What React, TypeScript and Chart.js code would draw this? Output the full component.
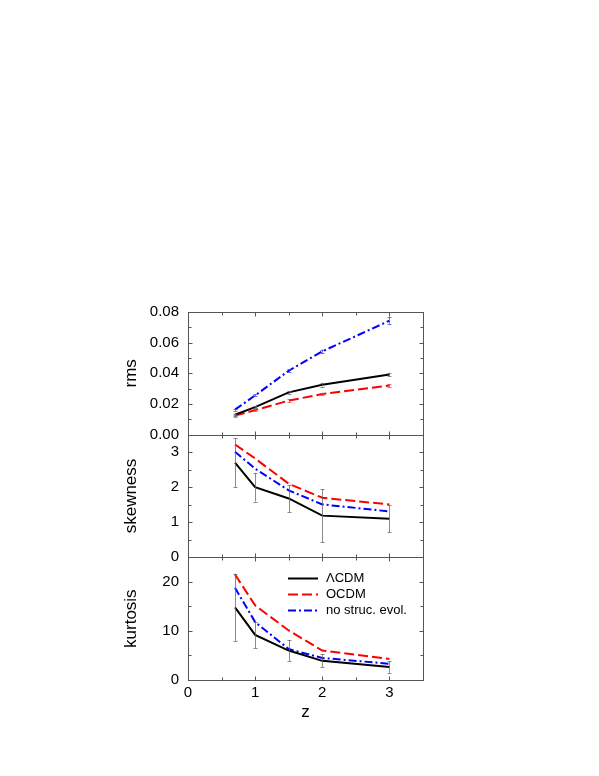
import React, { useEffect, useRef } from 'react';
import { Chart, registerables } from 'chart.js';

Chart.register(...registerables);

const zValues = [0.7, 1, 1.5, 2, 3];
const xTickLabels = ['0', '1', '2', '3'];

const seriesNames = ['\u039BCDM', 'OCDM', 'no struc. evol.'];

const rmsLCDM = [0.013, 0.018, 0.0276, 0.0326, 0.0392];
const rmsLCDMErr = [0.0007, 0.0007, 0.001, 0.0012, 0.0012];
const rmsOCDM = [0.0124, 0.016, 0.0222, 0.0265, 0.032];
const rmsOCDMErr = [0.0006, 0.0006, 0.0009, 0.0008, 0.001];
const rmsNoEvol = [0.0163, 0.0256, 0.0417, 0.0543, 0.0743];
const rmsNoEvolErr = [0.0007, 0.0007, 0.0009, 0.0012, 0.0022];

const skewLCDM = [2.7, 2.0, 1.68, 1.19, 1.1];
const skewLCDMErr = [0.7, 0.41, 0.39, 0.76, 0.38];
const skewOCDM = [3.22, 2.82, 2.1, 1.7, 1.51];
const skewNoEvol = [3.01, 2.53, 1.91, 1.51, 1.31];

const kurtLCDM = [14.8, 9.2, 6.0, 3.9, 2.65];
const kurtLCDMErr = [6.9, 2.7, 2.1, 1.3, 1.2];
const kurtOCDM = [21.5, 15.2, 10.1, 6.0, 4.3];
const kurtNoEvol = [18.8, 11.8, 6.3, 4.5, 3.3];

const FONT = '"Liberation Sans", Arial, Helvetica, sans-serif';
const FRAME = '#555555';
const COLORS = ['#000000', '#ff0000', '#0000ff'];
const DASHES: number[][] = [[], [10, 4], [8, 3, 2, 3]];
const ERR_COLORS = ['rgba(100,100,100,0.75)', 'rgba(230,60,60,0.7)', 'rgba(60,60,230,0.7)'];

const pts = (arr: number[]) => zValues.map((z, i) => ({ x: z, y: arr[i] }));

function mk(series: number, arr: number[], axis: string, errs?: number[]) {
  return {
    label: seriesNames[series],
    data: pts(arr),
    yAxisID: axis,
    borderColor: COLORS[series],
    backgroundColor: COLORS[series],
    borderWidth: 2,
    borderDash: DASHES[series],
    pointRadius: 0,
    tension: 0,
    fill: false,
    errors: errs,
    errColor: ERR_COLORS[series],
    seriesIndex: series,
  } as any;
}

const framePlugin = {
  id: 'frame',
  beforeDatasetsDraw(chart: any) {
    const ctx = chart.ctx;
    const area = chart.chartArea;
    const xs = chart.scales.x;
    ctx.save();
    ctx.strokeStyle = FRAME;
    ctx.lineWidth = 1;
    const left = Math.round(area.left) + 0.5;
    const right = Math.round(area.right) + 0.5;
    for (const id of ['yR', 'yS', 'yK']) {
      const s = chart.scales[id];
      const top = Math.round(s.top) + 0.5;
      const bottom = Math.round(s.bottom) + 0.5;
      ctx.strokeRect(left, top, right - left, bottom - top);
      ctx.beginPath();
      s.ticks.forEach((t: any) => {
        const y = Math.round(s.getPixelForValue(t.value)) + 0.5;
        const len = t.label !== '' ? 4 : 3;
        ctx.moveTo(left, y);
        ctx.lineTo(left + len, y);
        ctx.moveTo(right, y);
        ctx.lineTo(right - len, y);
      });
      xs.ticks.forEach((t: any) => {
        const x = Math.round(xs.getPixelForValue(t.value)) + 0.5;
        const len = t.label !== '' ? 4 : 3;
        ctx.moveTo(x, top);
        ctx.lineTo(x, top + len);
        ctx.moveTo(x, bottom);
        ctx.lineTo(x, bottom - len);
      });
      ctx.stroke();
    }
    ctx.restore();
  },
};

const errorBarPlugin = {
  id: 'errorbars',
  afterDatasetsDraw(chart: any) {
    const ctx = chart.ctx;
    const xs = chart.scales.x;
    ctx.save();
    ctx.lineWidth = 1;
    chart.data.datasets.forEach((ds: any) => {
      if (!ds.errors) return;
      const ys = chart.scales[ds.yAxisID];
      ctx.strokeStyle = ds.errColor;
      ctx.beginPath();
      ds.data.forEach((p: any, j: number) => {
        const e = ds.errors[j];
        if (!e) return;
        const x = Math.round(xs.getPixelForValue(p.x)) + 0.5;
        const y1 = ys.getPixelForValue(p.y - e);
        const y2 = ys.getPixelForValue(p.y + e);
        ctx.moveTo(x, y1);
        ctx.lineTo(x, y2);
        ctx.moveTo(x - 2, Math.round(y1) + 0.5);
        ctx.lineTo(x + 2, Math.round(y1) + 0.5);
        ctx.moveTo(x - 2, Math.round(y2) + 0.5);
        ctx.lineTo(x + 2, Math.round(y2) + 0.5);
      });
      ctx.stroke();
    });
    ctx.restore();
  },
};

const legendPlugin = {
  id: 'innerLegend',
  afterDatasetsDraw(chart: any) {
    const ctx = chart.ctx;
    const xs = chart.scales.x;
    const ys = chart.scales.yK;
    const x0 = xs.left + 100;
    const y0 = ys.top + 21;
    ctx.save();
    ctx.font = '13px ' + FONT;
    ctx.textBaseline = 'middle';
    ctx.textAlign = 'left';
    seriesNames.forEach((name, i) => {
      const y = Math.round(y0 + i * 15.8) + 0.5;
      ctx.strokeStyle = COLORS[i];
      ctx.lineWidth = 2;
      ctx.setLineDash(DASHES[i]);
      ctx.beginPath();
      ctx.moveTo(x0, y);
      ctx.lineTo(x0 + 30, y);
      ctx.stroke();
      ctx.setLineDash([]);
      ctx.fillStyle = '#000';
      ctx.fillText(name, x0 + 38, y);
    });
    ctx.restore();
  },
};

function yAxis(title: string, max: number, step: number, major: number, decimals: number) {
  return {
    type: 'linear',
    position: 'left',
    stack: 'panels',
    stackWeight: 1,
    min: 0,
    max,
    offset: false,
    afterFit: (s: any) => {
      s.width = 71;
    },
    grid: { display: false, drawTicks: false, drawOnChartArea: false },
    border: { display: false },
    ticks: {
      stepSize: step,
      autoSkip: false,
      padding: 9,
      color: '#000',
      font: { size: 15, family: FONT },
      callback: (v: number) => {
        const r = Math.round(v / major * 1000) / 1000;
        return Math.abs(r - Math.round(r)) < 1e-6 ? Number(v).toFixed(decimals) : '';
      },
    },
    title: {
      display: true,
      text: title,
      color: '#000',
      font: { size: 17, family: FONT },
      padding: { top: 4, bottom: 4 },
    },
  } as any;
}

export default function App() {
  const ref = useRef<HTMLCanvasElement | null>(null);
  useEffect(() => {
    if (!ref.current) return;
    const datasets = [
      mk(0, kurtLCDM, 'yK', kurtLCDMErr),
      mk(1, kurtOCDM, 'yK'),
      mk(2, kurtNoEvol, 'yK'),
      mk(0, skewLCDM, 'yS', skewLCDMErr),
      mk(1, skewOCDM, 'yS'),
      mk(2, skewNoEvol, 'yS'),
      mk(0, rmsLCDM, 'yR', rmsLCDMErr),
      mk(1, rmsOCDM, 'yR', rmsOCDMErr),
      mk(2, rmsNoEvol, 'yR', rmsNoEvolErr),
    ];
    const chart = new Chart(ref.current, {
      type: 'line',
      data: { datasets },
      plugins: [framePlugin, errorBarPlugin, legendPlugin],
      options: {
        animation: false,
        responsive: false,
        devicePixelRatio: 1,
        events: [],
        layout: { padding: { left: 117, right: 176, top: 312, bottom: 49 } },
        plugins: { legend: { display: false }, tooltip: { enabled: false } },
        scales: {
          x: {
            type: 'linear',
            position: 'bottom',
            min: 0,
            max: 3.5,
            afterFit: (s: any) => {
              s.height = 47;
            },
            grid: { display: false, drawTicks: false, drawOnChartArea: false },
            border: { display: false },
            ticks: {
              stepSize: 0.5,
              autoSkip: false,
              maxRotation: 0,
              padding: 4,
              color: '#000',
              font: { size: 15, family: FONT },
              callback: (v: number) => {
                const s = String(Math.round(v * 10) / 10);
                return xTickLabels.includes(s) ? s : '';
              },
            },
            title: {
              display: true,
              text: 'z',
              color: '#000',
              font: { size: 17, family: FONT },
              padding: { top: 4, bottom: 4 },
            },
          },
          yK: yAxis('kurtosis', 25, 5, 10, 0),
          yS: yAxis('skewness', 3.5, 0.5, 1, 0),
          yR: yAxis('rms', 0.08, 0.01, 0.02, 2),
        },
      } as any,
    });
    return () => chart.destroy();
  }, []);
  return (
    <div style={{ position: 'absolute', left: 0, top: 0, width: 599, height: 776 }}>
      <canvas ref={ref} width={599} height={776} style={{ display: 'block' }} />
    </div>
  );
}
